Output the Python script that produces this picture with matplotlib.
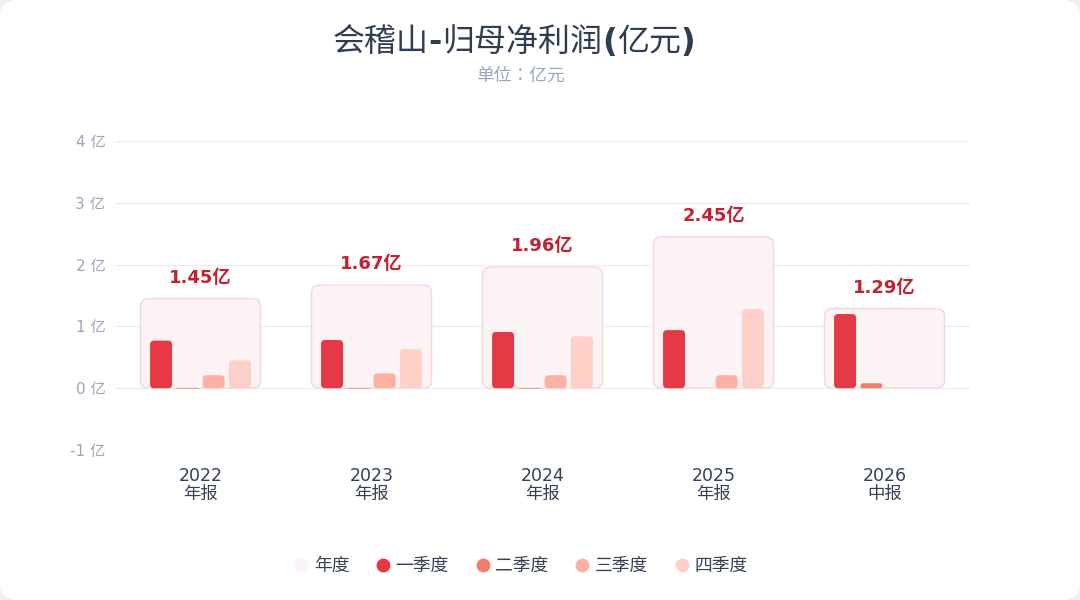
import numpy as np
import matplotlib
matplotlib.use("Agg")
import matplotlib.pyplot as plt
from matplotlib.patches import FancyBboxPatch
from matplotlib.lines import Line2D
from matplotlib.offsetbox import TextArea, HPacker, AnchoredOffsetbox

plt.rcParams['font.family'] = ['DejaVu Sans', 'Noto Sans CJK SC']

# ---------------- data ----------------
categories = ["2022\n年报", "2023\n年报", "2024\n年报", "2025\n年报", "2026\n中报"]
annual = [1.45, 1.67, 1.96, 2.45, 1.29]
annual_labels = ["1.45亿", "1.67亿", "1.96亿", "2.45亿", "1.29亿"]
q1 = [0.77, 0.78, 0.91, 0.94, 1.20]
q2 = [-0.01, -0.01, -0.01, np.nan, 0.08]
q3 = [0.21, 0.24, 0.21, 0.21, np.nan]
q4 = [0.45, 0.63, 0.84, 1.28, np.nan]
yticks = [-1, 0, 1, 2, 3, 4]
ytick_labels = ["-1 亿", "0 亿", "1 亿", "2 亿", "3 亿", "4 亿"]
legend_names = ["年度", "一季度", "二季度", "三季度", "四季度"]
title_parts = ["会稽山", "-", "归母净利润", "(", "亿元", ")"]
subtitle = "单位：亿元"

# ---------------- style ----------------
c_annual_face = "#fbf3f4"
c_annual_edge = "#f6d6da"
c_q = ["#e63946", "#f07f6b", "#fdb1a3", "#fdd0c8"]
c_label = "#c42130"
c_title = "#2e3d50"
c_sub = "#9aa6b9"
c_tick = "#344055"

W, H = 1080, 600
fig = plt.figure(figsize=(W / 100, H / 100), dpi=100)
fig.patch.set_facecolor("#eef0f3")
card = FancyBboxPatch((0.0, 0.0), 1.0, 1.0,
                      boxstyle="round,pad=0,rounding_size=0.016",
                      transform=fig.transFigure, facecolor="white",
                      edgecolor="none", mutation_aspect=1.8, zorder=-10)
fig.patches.append(card)

ax_l, ax_r = 115 / W, 970 / W
ax_b, ax_t = 1 - 450 / H, 1 - 141 / H
ax = fig.add_axes([ax_l, ax_b, ax_r - ax_l, ax_t - ax_b])
ax.set_zorder(5)
ax.set_facecolor("none")
ax.set_xlim(-0.5, len(categories) - 0.5)
ax.set_ylim(-1, 4)

# data-units per pixel for rounding
x_per_px = (len(categories)) / (970 - 115)
y_per_px = 5 / (450 - 141)
aspect = y_per_px / x_per_px

x = np.arange(len(categories))


def rounded(bars, radius_px, face, edge=None, lw=0, z=2):
    for b in bars:
        bx, by = b.get_x(), b.get_y()
        bw, bh = b.get_width(), b.get_height()
        b.set_visible(False)
        if not np.isfinite(bh) or bh == 0:
            continue
        if bh < 0:
            by, bh = by + bh, -bh
        r = min(radius_px * x_per_px, bh / aspect / 2, bw / 2)
        p = FancyBboxPatch((bx, by), bw, bh,
                           boxstyle=f"round,pad=0,rounding_size={r}",
                           mutation_aspect=aspect, facecolor=face,
                           edgecolor=edge if edge else "none",
                           linewidth=lw, zorder=z)
        ax.add_patch(p)


box_w = 120 * x_per_px
bars_a = ax.bar(x, annual, width=box_w)
rounded(bars_a, 8, c_annual_face, c_annual_edge, 1.0, z=1)

bw = 22 * x_per_px
step = 26.3 * x_per_px
offsets = [-1.5 * step, -0.5 * step, 0.5 * step, 1.5 * step]
for vals, off, col in zip([q1, q2, q3, q4], offsets, c_q):
    bars = ax.bar(x + off, vals, width=bw)
    rounded(bars, 4, col, z=3)

for xi, v, lab in zip(x, annual, annual_labels):
    ax.annotate(lab, (xi, v), xytext=(0, 15), textcoords="offset points",
                ha="center", va="center", fontsize=13, fontweight="bold",
                color=c_label, zorder=5, annotation_clip=False)

ax.set_yticks(yticks)
ax.set_yticklabels(ytick_labels)
ax.set_xticks(x)
ax.set_xticklabels(categories, linespacing=1.0)
ax.tick_params(axis="y", length=0, pad=7, labelsize=11, labelcolor=c_sub)
ax.tick_params(axis="x", length=0, pad=12, labelsize=12.5, labelcolor=c_tick)
ax.grid(axis="y", color="#e9ecf1", linewidth=0.8, zorder=0)
ax.set_axisbelow(True)
for s in ax.spines.values():
    s.set_visible(False)

# title: CJK regular, ASCII punctuation bold
areas = []
for part in title_parts:
    is_cjk = any(ord(ch) > 0x2E80 for ch in part)
    props = dict(fontsize=23, color=c_title)
    if is_cjk:
        props.update(family=['Noto Sans CJK SC'], fontweight="normal")
    else:
        props.update(family=['DejaVu Sans'], fontweight="bold")
    areas.append(TextArea(part, textprops=props))
pack = HPacker(children=areas, align="baseline", pad=0, sep=0)
anch = AnchoredOffsetbox(loc="center", child=pack, pad=0, frameon=False,
                         bbox_to_anchor=(514 / W, 1 - 42 / H),
                         bbox_transform=fig.transFigure, borderpad=0)
fig.add_artist(anch)

fig.text(520 / W, 1 - 76 / H, subtitle, ha="center", va="center", fontsize=12.8,
         color=c_sub, family=['Noto Sans CJK JP', 'DejaVu Sans'])

handles = [Line2D([], [], marker="o", linestyle="none", markersize=10,
                  markerfacecolor=c, markeredgecolor="none")
           for c in [c_annual_face] + c_q]
leg = fig.legend(handles, legend_names, loc="center", ncol=5,
                 bbox_to_anchor=(519 / W, 1 - 566 / H), frameon=False,
                 fontsize=12.8, handletextpad=0.1, columnspacing=1.3,
                 handlelength=1.2)
for t in leg.get_texts():
    t.set_color(c_tick)

fig.savefig("out.png", dpi=100, facecolor=fig.get_facecolor())
